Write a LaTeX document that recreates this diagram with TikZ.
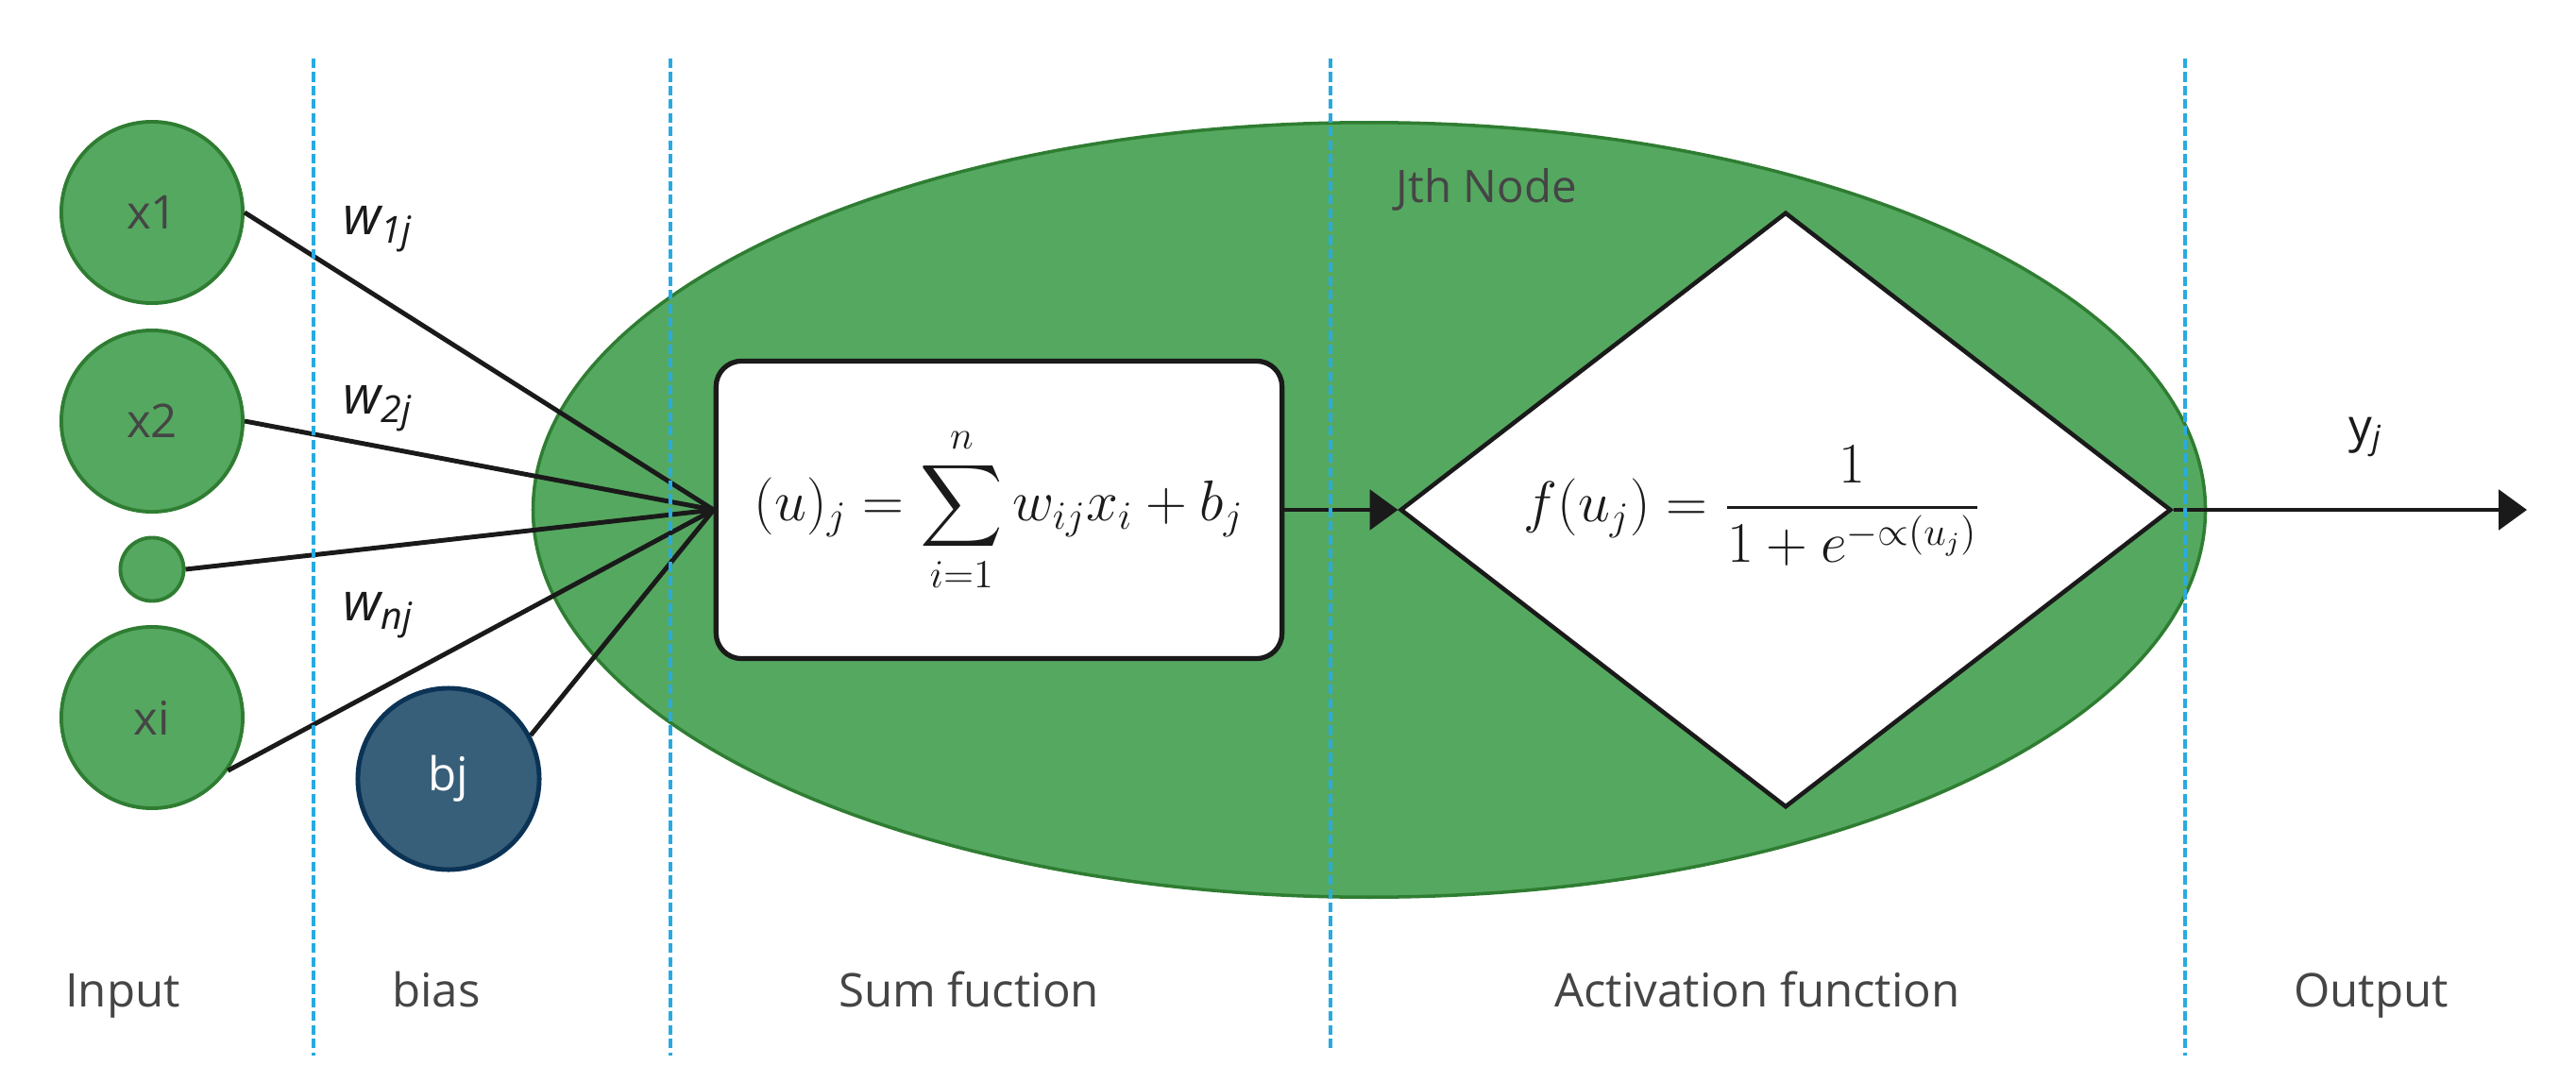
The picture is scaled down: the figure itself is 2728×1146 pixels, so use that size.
\documentclass[tikz,border=0pt]{standalone}
\usepackage{fontspec}
\usepackage{amsmath}
\newfontfamily\osans{Open Sans}
\usetikzlibrary{shapes.geometric,arrows.meta}
\definecolor{ngreen}{HTML}{55A860}
\definecolor{ngreenline}{HTML}{2F7D32}
\definecolor{nblue}{HTML}{375F7A}
\definecolor{nblueline}{HTML}{0B3355}
\definecolor{sepblue}{HTML}{29AAE1}
\definecolor{labgrey}{HTML}{454545}
\definecolor{ink}{HTML}{1A1A1A}
\begin{document}
\begin{tikzpicture}[x=0.01cm,y=-0.01cm,
  incirc/.style={circle, fill=ngreen, draw=ngreenline, line width=1.1pt, minimum size=1.92cm, inner sep=0pt, font=\osans\fontsize{14}{16}\selectfont, text=labgrey},
  dotcirc/.style={circle, fill=ngreen, draw=ngreenline, line width=1.1pt, minimum size=0.67cm, inner sep=0pt},
  biascirc/.style={circle, fill=nblue, draw=nblueline, line width=1.4pt, minimum size=1.92cm, inner sep=0pt, font=\osans\fontsize{14}{16}\selectfont, text=white},
  wire/.style={draw=ink, line width=1.4pt},
  arr/.style={wire, -{Triangle[length=8.5pt,width=12pt]}},
  sepline/.style={draw=sepblue, line width=0.95pt, dash pattern=on 2.9pt off 1.2pt},
  wlab/.style={font=\osans\fontsize{16}{18}\selectfont\itshape, text=ink},
  seclab/.style={font=\osans\fontsize{14}{16}\selectfont, text=labgrey, anchor=base},
  mathf/.style={font=\fontsize{17}{20}\selectfont, text=ink, inner sep=0pt}
]
\useasboundingbox (0,0) rectangle (2728,1146);

% big node ellipse
\node[ellipse, fill=ngreen, draw=ngreenline, line width=1pt, minimum width=17.7cm, minimum height=8.2cm, inner sep=0pt] (jnode) at (1450,540) {};
\node[font=\osans\fontsize{13.5}{16}\selectfont, text=labgrey, anchor=base west, inner sep=0pt] (jlab) at (1478,215) {Jth Node};

% inputs
\node[incirc] (x1) at (161,225) {x1};
\node[incirc] (x2) at (161,446) {x2};
\node[dotcirc] (dot) at (161,603) {};
\node[incirc] (xi) at (161,760) {xi};
\node[biascirc] (bj) at (475,825) {bj};

% sum box
\node[draw=ink, line width=1.5pt, fill=white, rounded corners=0.27cm, minimum width=5.99cm, minimum height=3.15cm, inner sep=0pt, mathf] (sum) at (1058,540)
  {$(u)_j = \displaystyle\sum_{i=1}^{n} w_{ij}x_i + b_j$};

% activation diamond
\node[diamond, aspect=1.3, draw=ink, line width=1.3pt, fill=white, minimum width=8.16cm, minimum height=6.3cm, inner sep=0pt] (act) at (1891,540) {};
\node[mathf] (actf) at (1856,536) {$f(u_j) = \dfrac{1}{1+e^{-\propto(u_j)}}$};

% wires
\draw[wire] (x1.east) -- (sum.west);
\draw[wire] (x2.east) -- (sum.west);
\draw[wire] (dot.east) -- (sum.west);
\draw[wire] (xi.-35) -- (sum.west);
\draw[wire] (bj.28) -- (sum.west);
\draw[arr] (sum.east) -- (act.west);
\coordinate (yout) at (2676,540);
\draw[arr] (act.east) -- (yout);

% weight labels
\node[wlab] (w1) at (400,243) {w\textsubscript{1j}};
\node[wlab] (w2) at (400,433) {w\textsubscript{2j}};
\node[wlab] (wn) at (401,652) {w\textsubscript{nj}};
\node[font=\osans\fontsize{14}{16}\selectfont, text=ink] (yl) at (2505,463) {y\textsubscript{\itshape j}};

% separators
\draw[sepline] (332,62) -- (332,1118);
\draw[sepline] (710,62) -- (710,1118);
\draw[sepline] (1409,62) -- (1409,1114);
\draw[sepline] (2314,62) -- (2314,1118);

% section labels
\node[seclab] (l1) at (130,1066) {Input};
\node[seclab] (l2) at (462,1066) {bias};
\node[seclab] (l3) at (1026,1066) {Sum fuction};
\node[seclab] (l4) at (1861,1066) {Activation function};
\node[seclab] (l5) at (2511,1066) {Output};
\end{tikzpicture}
\end{document}
